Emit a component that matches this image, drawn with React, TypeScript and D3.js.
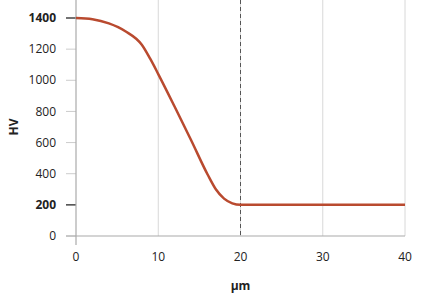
import React from "react";
import * as d3 from "d3";

const xTicks = [0, 10, 20, 30, 40];
const yTicks = [0, 200, 400, 600, 800, 1000, 1200, 1400];
const boldY = [200, 1400];
const depth = [0, 2, 4, 6, 8, 9, 10, 12, 14, 16, 17, 18, 19, 20, 25, 30, 40];
const hv = [1400, 1392, 1365, 1315, 1228, 1140, 1040, 830, 615, 395, 300, 240, 210, 200, 200, 200, 200];
const markerX = 20;

export default function App() {
  const W = 428, H = 294;
  const x = d3.scaleLinear().domain([0, 40]).range([76, 405]);
  const y = d3.scaleLinear().domain([0, 1400]).range([236, 18]);
  const pts: [number, number][] = depth.map((d, i) => [d, hv[i]]);
  const line = d3
    .line<[number, number]>()
    .x((d) => x(d[0]))
    .y((d) => y(d[1]))
    .curve(d3.curveMonotoneX);
  const font = "'Open Sans', sans-serif";
  return (
    <svg width={W} height={H} style={{ position: "absolute", left: 0, top: 0 }}>
      {xTicks.slice(1).map((t) => (
        <line key={"g" + t} x1={x(t)} x2={x(t)} y1={0} y2={y(0)} stroke="#d8d8d8" strokeWidth={1} />
      ))}
      <line x1={x(markerX)} x2={x(markerX)} y1={0} y2={y(0)} stroke="#555" strokeWidth={1} strokeDasharray="4,3" />
      {yTicks.map((t) => (
        <line
          key={"yt" + t}
          x1={66}
          x2={x(0)}
          y1={y(t)}
          y2={y(t)}
          stroke={boldY.includes(t) ? "#444" : "#ccc"}
          strokeWidth={boldY.includes(t) ? 1.5 : 1}
        />
      ))}
      <line x1={x(0)} x2={x(0)} y1={0} y2={y(0) + 9} stroke="#aaa" strokeWidth={1.2} />
      <line x1={66} x2={x(40)} y1={y(0)} y2={y(0)} stroke="#aaa" strokeWidth={1.2} />
      {yTicks.map((t) => (
        <text
          key={"yl" + t}
          x={56}
          y={y(t)}
          dy="0.35em"
          textAnchor="end"
          fontFamily={font}
          fontSize={12}
          fontWeight={boldY.includes(t) ? 700 : 400}
          fill="#222"
        >
          {t}
        </text>
      ))}
      {xTicks.map((t) => (
        <text key={"xl" + t} x={x(t)} y={261} textAnchor="middle" fontFamily={font} fontSize={12} fill="#222">
          {t}
        </text>
      ))}
      <text x={x(20)} y={290} textAnchor="middle" fontFamily={font} fontSize={12} fontWeight={700} fill="#222">
        µm
      </text>
      <text
        transform={`translate(18,${y(700)}) rotate(-90)`}
        textAnchor="middle"
        fontFamily={font}
        fontSize={12}
        fontWeight={700}
        fill="#222"
      >
        HV
      </text>
      <path d={line(pts) || ""} fill="none" stroke="#b94a2f" strokeWidth={2.5} />
    </svg>
  );
}
